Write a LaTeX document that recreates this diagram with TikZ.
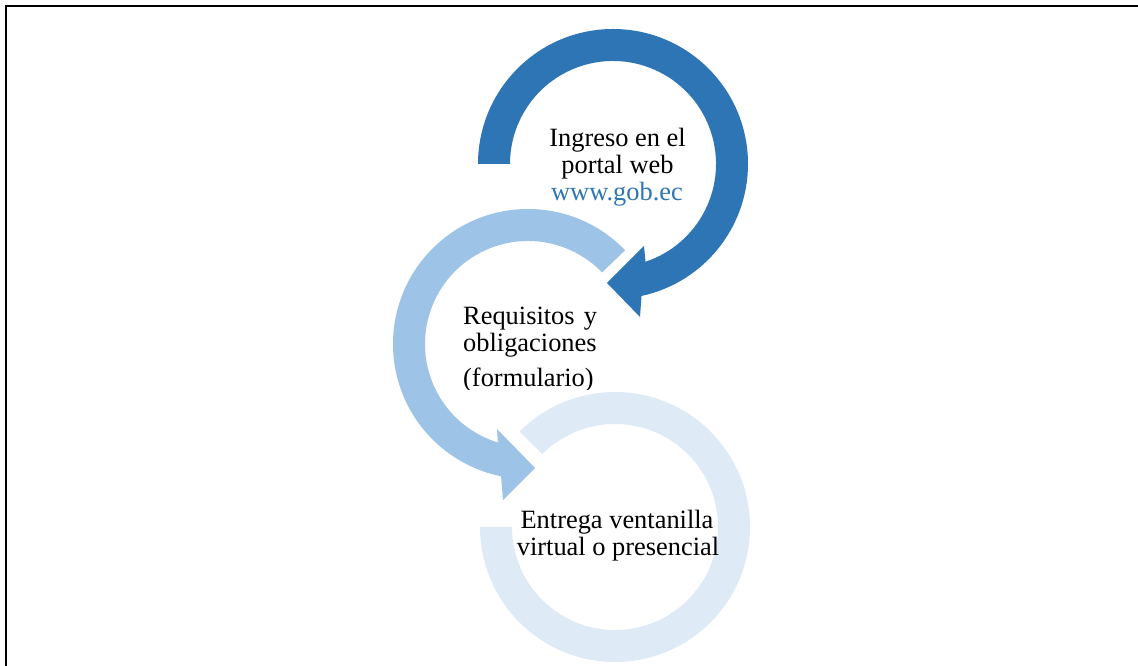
\documentclass[tikz,border=0pt]{standalone}
\usepackage{fontspec}
\setmainfont{Liberation Serif}
\definecolor{ringdark}{HTML}{2E75B6}
\definecolor{ringmid}{HTML}{9DC3E6}
\definecolor{ringlight}{HTML}{DEEBF7}
\tikzset{
    steptext/.style={font=\fontsize{26.4}{27}\selectfont, inner sep=0pt, anchor=base},
    stepleft/.style={steptext, anchor=base west}
}
\begin{document}
\begin{tikzpicture}[x=1pt, y=1pt]
    \useasboundingbox (0,0) rectangle (1138,666);

    % Centres of the three ring arrows
    \coordinate (C1) at (613, 502);
    \coordinate (C2) at (528, 322);
    \coordinate (C3) at (615, 139);

    % Frame (only top and left edges show)
    \coordinate (FL) at (6, 0);
    \coordinate (FC) at (6, 660);
    \coordinate (FR) at (1138, 660);
    \draw[line width=1.6pt, black] (FL) -- (FC) -- (FR);

    % Ring 1: dark blue, clockwise from the left, head at the lower right
    \fill[ringdark, shift={(C1)}] (180:135) arc[start angle=180, end angle=-77.8, radius=135]
        -- (27,-153) -- (-6,-119) -- (31,-82)
        -- (-71.6:103) arc[start angle=-71.6, end angle=180, radius=103] -- cycle;

    % Ring 2: mid blue, anticlockwise from the upper right, head at the bottom
    \fill[ringmid, shift={(C2)}] (44:135) arc[start angle=44, end angle=258.5, radius=135]
        -- (-25,-156) -- (7,-124) -- (-31,-85)
        -- (253:103) arc[start angle=253, end angle=44, radius=103] -- cycle;

    % Ring 3: light blue, open ring without a head
    \fill[ringlight, shift={(C3)}] (135:135) arc[start angle=135, end angle=-180, radius=135]
        -- (180:103) arc[start angle=180, end angle=495, radius=103] -- cycle;

    % Texts of ring 1
    \node[steptext] (t1a) at (617.5, 519.3) {Ingreso en el};
    \node[steptext] (t1b) at (617.5, 492.7) {portal web};
    \node[steptext, text=ringdark] (t1c) at (617, 465.3) {www.gob.ec};

    % Texts of ring 2
    \node[stepleft] (t2a) at (463, 341) {Requisitos\hspace{0.35em}y};
    \node[stepleft] (t2b) at (463, 314.3) {obligaciones};
    \begin{scope}
        \clip (400, 276.5) rectangle (700, 310);
        \node[stepleft] (t2c) at (463, 279.3) {(formulario)};
    \end{scope}

    % Texts of ring 3
    \node[steptext] (t3a) at (617, 137) {Entrega ventanilla};
    \node[steptext] (t3b) at (618, 110.3) {virtual o presencial};
\end{tikzpicture}
\end{document}
